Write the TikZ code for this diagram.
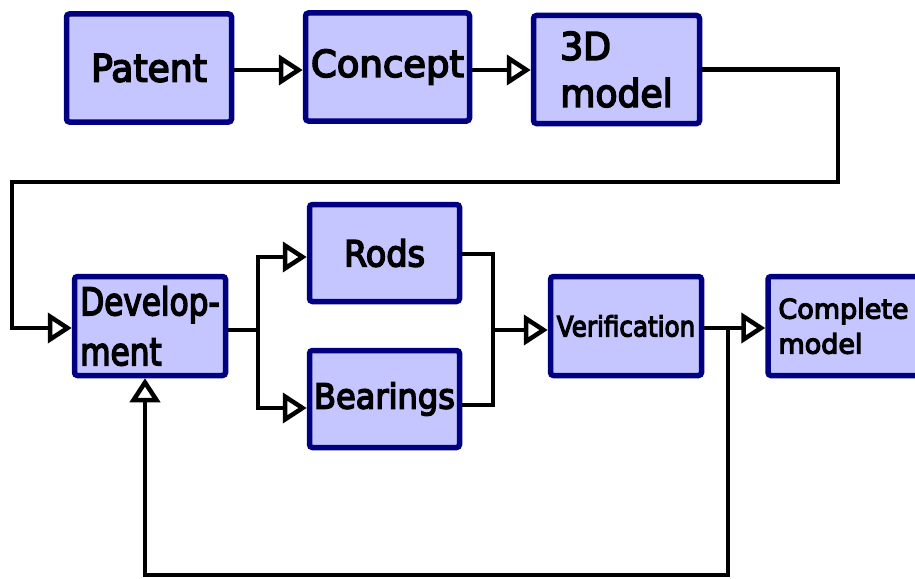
\documentclass[tikz,border=0pt]{standalone}
\usepackage{fontspec}
\setmainfont{DejaVu Sans}
\newfontfamily\lblfont{DejaVu Sans}[FakeBold=4.5]
\usepackage{graphicx}
\usetikzlibrary{arrows.meta}
\definecolor{boxfill}{RGB}{197,197,255}
\definecolor{boxline}{RGB}{0,0,128}
\tikzset{
  box/.style={draw=boxline, fill=boxfill, line width=5.5pt, rounded corners=3pt,
    inner sep=0pt, align=left, text=black},
  conn/.style={line width=4.5pt, draw=black},
  arr/.style={conn, -{Triangle[open,length=24pt,width=30pt]}},
}
\begin{document}
\begin{tikzpicture}[x=1pt,y=-1pt]
\useasboundingbox (0,0) rectangle (915,578);
% boxes
\node[box, minimum width=165pt, minimum height=108pt, font=\lblfont\fontsize{38}{46}\selectfont] (patent) at (149,68) {\scalebox{0.95}[1]{Patent}};
\node[box, minimum width=164pt, minimum height=108pt, font=\lblfont\fontsize{37}{46}\selectfont] (concept) at (387.5,67) {Concept};
\node[box, minimum width=166pt, minimum height=108pt, font=\lblfont\fontsize{38}{47}\selectfont] (model) at (616.5,69.5) {\scalebox{0.95}[1]{3D}\\\scalebox{0.95}[1]{model}};
\node[box, minimum width=151pt, minimum height=99pt, font=\lblfont\fontsize{38}{50}\selectfont] (dev) at (150,326) {\scalebox{0.82}[1]{Develop-}\\\scalebox{0.82}[1]{ment}};
\node[box, minimum width=150pt, minimum height=97pt, font=\lblfont\fontsize{36}{44}\selectfont] (rods) at (384.5,253) {\scalebox{0.93}[1]{Rods}};
\node[box, minimum width=150pt, minimum height=97pt, font=\lblfont\fontsize{34.5}{42}\selectfont] (bear) at (384.5,399) {\scalebox{0.93}[1]{Bearings}};
\node[box, minimum width=151pt, minimum height=99pt, font=\lblfont\fontsize{28}{34}\selectfont] (ver) at (626,326) {\scalebox{0.88}[1]{Verification}};
\node[box, minimum width=151pt, minimum height=99pt, font=\lblfont\fontsize{27}{35}\selectfont] (comp) at (843.5,326) {Complete\\model};
% bend points
\coordinate (r1) at (838,182);
\coordinate (l1) at (12,182);
\coordinate (f1) at (258,330);
\coordinate (m1) at (493,330);
\coordinate (b1) at (728,575);
% connectors
\draw[arr] ([yshift=-2pt]patent.east) -- ([yshift=-2pt]patent.east -| concept.west);
\draw[arr] ([yshift=-3pt]concept.east) -- ([yshift=-3pt]concept.east -| model.west);
\draw[arr] (model.east) -| (r1) -- (l1) |- ([yshift=-2pt]dev.west);
\draw[conn] ([yshift=-4pt]dev.east) -- (f1);
\draw[arr] (f1) |- ([yshift=-4pt]rods.west);
\draw[arr] (f1) |- ([yshift=-9pt]bear.west);
\draw[conn] ([yshift=-1pt]rods.east) -| (m1);
\draw[conn] ([yshift=-6pt]bear.east) -| (m1);
\draw[arr] (m1) -- (m1 -| ver.west);
\draw[arr] ([yshift=-2pt]ver.east) -- ([yshift=-2pt]comp.west);
\draw[arr] (b1 |- comp.west) -- (b1) -| ([xshift=-5pt]dev.south);
\end{tikzpicture}
\end{document}
